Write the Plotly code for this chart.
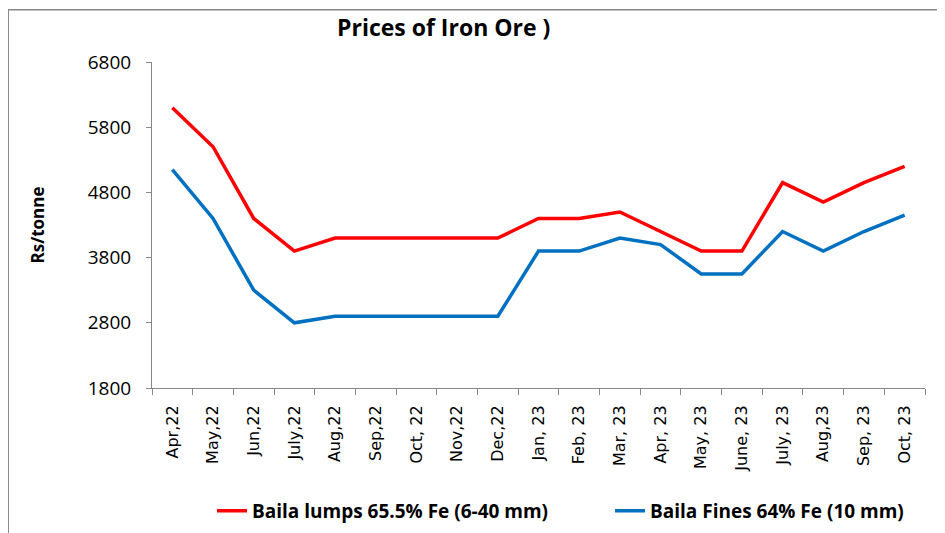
"""
Visualization utilities for Iron Ore prices
Theme: Excel-like Red and Blue lines on white
"""

import plotly.graph_objects as go

months = ['Apr,22', 'May,22', 'Jun,22', 'July,22', 'Aug,22', 'Sep,22', 'Oct, 22', 'Nov,22', 'Dec,22',
          'Jan, 23', 'Feb, 23', 'Mar, 23', 'Apr, 23', 'May, 23', 'June, 23', 'July, 23', 'Aug,23',
          'Sep, 23', 'Oct, 23']
lumps = [6100, 5500, 4400, 3900, 4100, 4100, 4100, 4100, 4100,
         4400, 4400, 4500, 4200, 3900, 3900, 4950, 4650, 4950, 5200]
fines = [5150, 4400, 3300, 2800, 2900, 2900, 2900, 2900, 2900,
         3900, 3900, 4100, 4000, 3550, 3550, 4200, 3900, 4200, 4450]
y_ticks = [1800, 2800, 3800, 4800, 5800, 6800]


class Visualizer:
    def __init__(self):
        # Palette
        self.colors = {
            'red': '#ff0000',      # Lumps
            'blue': '#0070c0',     # Fines
            'axis': '#868686',     # Axis grey
            'text': '#000000'      # Black text
        }

        self.base_layout = {
            'paper_bgcolor': '#ffffff',
            'plot_bgcolor': '#ffffff',
            'font': dict(color='#000000', family='Open Sans, sans-serif'),
            'showlegend': True,
            'width': 937,   # page body adds 8px on each side
            'height': 525,
            'margin': dict(l=144, r=20, t=54, b=145, autoexpand=False)
        }

    def _apply_axes_style(self, fig):
        """Helper to apply Excel-like axes"""
        fig.update_xaxes(showgrid=False, zeroline=False, showline=True, linecolor=self.colors['axis'],
                         ticks='outside', tickcolor=self.colors['axis'], ticklen=6, tickson='boundaries',
                         range=[-0.5, len(months) - 0.5], automargin=False, ticklabelstandoff=10,
                         tickangle=-90, tickfont=dict(family='DejaVu Sans', size=16, color='#000000'))
        fig.update_yaxes(showgrid=False, zeroline=False, showline=True, linecolor=self.colors['axis'],
                         ticks='outside', tickcolor=self.colors['axis'], ticklen=5, automargin=False,
                         tickvals=y_ticks, range=[1800, 6800], ticklabelstandoff=11,
                         tickfont=dict(family='Open Sans', size=19, color='#000000'))
        return fig

    def plot_iron_ore_prices(self):
        """Two price lines, each with its own legend underneath"""
        fig = go.Figure()
        fig.add_trace(go.Scatter(
            x=months, y=lumps, mode='lines', name='<b>Baila lumps 65.5% Fe (6-40 mm)</b>',
            line=dict(color=self.colors['red'], width=3.5), legend='legend'
        ))
        fig.add_trace(go.Scatter(
            x=months, y=fines, mode='lines', name='<b>Baila Fines 64% Fe (10 mm)</b>',
            line=dict(color=self.colors['blue'], width=3.5), legend='legend2'
        ))
        legend_style = dict(orientation='h', yanchor='middle', y=-0.377, xanchor='left',
                            font=dict(family='Open Sans', size=19), itemwidth=30,
                            bgcolor='rgba(0,0,0,0)')
        fig.update_layout(
            **self.base_layout,
            title=dict(text='<b>Prices of Iron Ore )</b>', x=0.465, xanchor='center', y=0.962, yanchor='middle',
                       font=dict(family='Open Sans', size=23, color='#000000')),
            yaxis_title=dict(text='<b>Rs/tonne</b>', font=dict(family='Open Sans', size=17), standoff=38),
            legend=dict(**legend_style, x=0.0776),
            legend2=dict(**legend_style, x=0.5925),
            shapes=[dict(type='rect', xref='paper', yref='paper', x0=-0.186, x1=1.1, y0=-0.6, y1=1.16,
                         line=dict(color='#868686', width=1.5))]
        )
        return self._apply_axes_style(fig)


fig = Visualizer().plot_iron_ore_prices()
fig.write_html("out.html")
